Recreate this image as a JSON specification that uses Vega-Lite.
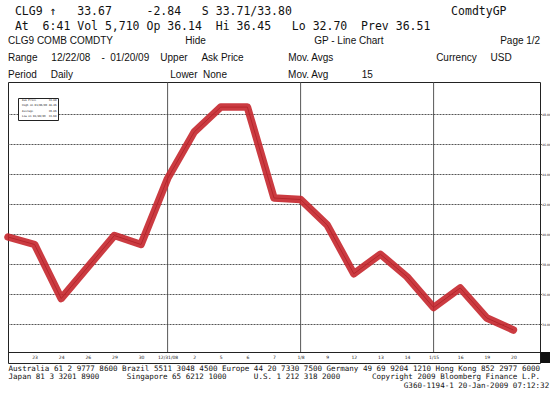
{
  "$schema": "https://vega.github.io/schema/vega-lite/v6.json",
  "width": 532,
  "height": 281,
  "padding": {"left": 4, "top": 6, "right": 0, "bottom": 0},
  "background": "white",
  "config": {"view": {"stroke": "#222", "strokeWidth": 1}},
  "title": {
    "text": [
      "\u200b\u00a0CLG9 ↑\u00a0\u00a0\u00a033.67\u00a0\u00a0\u00a0\u00a0\u00a0-2.84\u00a0\u00a0\u00a0S 33.71/33.80\u00a0\u00a0\u00a0\u00a0\u00a0\u00a0\u00a0\u00a0\u00a0\u00a0\u00a0\u00a0\u00a0\u00a0\u00a0\u00a0\u00a0\u00a0\u00a0\u00a0\u00a0\u00a0\u00a0ComdtyGP",
      "\u200b\u00a0At\u00a0\u00a06:41 Vol 5,710 Op 36.14\u00a0\u00a0Hi 36.45\u00a0\u00a0\u00a0Lo 32.70\u00a0\u00a0Prev 36.51"
    ],
    "subtitle": [
      "CLG9 COMB COMDTY\u00a0\u00a0\u00a0\u00a0\u00a0\u00a0\u00a0\u00a0\u00a0\u00a0\u00a0\u00a0\u00a0\u00a0\u00a0\u00a0\u00a0\u00a0\u00a0\u00a0\u00a0\u00a0\u00a0\u00a0\u00a0\u00a0Hide\u00a0\u00a0\u00a0\u00a0\u00a0\u00a0\u00a0\u00a0\u00a0\u00a0\u00a0\u00a0\u00a0\u00a0\u00a0\u00a0\u00a0\u00a0\u00a0\u00a0\u00a0\u00a0\u00a0\u00a0\u00a0\u00a0\u00a0\u00a0\u00a0\u00a0\u00a0\u00a0\u00a0\u00a0\u00a0\u00a0\u00a0\u00a0\u00a0GP - Line Chart\u00a0\u00a0\u00a0\u00a0\u00a0\u00a0\u00a0\u00a0\u00a0\u00a0\u00a0\u00a0\u00a0\u00a0\u00a0\u00a0\u00a0\u00a0\u00a0\u00a0\u00a0\u00a0\u00a0\u00a0\u00a0\u00a0\u00a0\u00a0\u00a0\u00a0\u00a0\u00a0\u00a0\u00a0\u00a0\u00a0\u00a0\u00a0\u00a0\u00a0\u00a0\u00a0Page 1/2",
      "Range\u00a0\u00a0\u00a0\u00a0\u00a012/22/08\u00a0\u00a0\u00a0\u00a0-\u00a0\u00a001/20/09\u00a0\u00a0\u00a0\u00a0Upper\u00a0\u00a0\u00a0\u00a0\u00a0Ask Price\u00a0\u00a0\u00a0\u00a0\u00a0\u00a0\u00a0\u00a0\u00a0\u00a0\u00a0\u00a0\u00a0\u00a0\u00a0\u00a0Mov. Avgs\u00a0\u00a0\u00a0\u00a0\u00a0\u00a0\u00a0\u00a0\u00a0\u00a0\u00a0\u00a0\u00a0\u00a0\u00a0\u00a0\u00a0\u00a0\u00a0\u00a0\u00a0\u00a0\u00a0\u00a0\u00a0\u00a0\u00a0\u00a0\u00a0\u00a0\u00a0\u00a0\u00a0\u00a0\u00a0\u00a0\u00a0Currency\u00a0\u00a0\u00a0\u00a0\u00a0USD",
      "Period\u00a0\u00a0\u00a0\u00a0\u00a0Daily\u00a0\u00a0\u00a0\u00a0\u00a0\u00a0\u00a0\u00a0\u00a0\u00a0\u00a0\u00a0\u00a0\u00a0\u00a0\u00a0\u00a0\u00a0\u00a0\u00a0\u00a0\u00a0\u00a0\u00a0\u00a0\u00a0\u00a0\u00a0\u00a0\u00a0\u00a0\u00a0\u00a0\u00a0\u00a0Lower\u00a0\u00a0None\u00a0\u00a0\u00a0\u00a0\u00a0\u00a0\u00a0\u00a0\u00a0\u00a0\u00a0\u00a0\u00a0\u00a0\u00a0\u00a0\u00a0\u00a0\u00a0\u00a0\u00a0\u00a0Mov. Avg\u00a0\u00a0\u00a0\u00a0\u00a0\u00a0\u00a0\u00a0\u00a0\u00a0\u00a0\u00a015"
    ],
    "anchor": "start",
    "frame": "group",
    "font": "DejaVu Sans Mono",
    "fontSize": 11.5,
    "fontWeight": "normal",
    "color": "#111",
    "lineHeight": 15,
    "subtitleFont": "Liberation Sans",
    "subtitleFontSize": 10,
    "subtitleColor": "#111",
    "subtitleLineHeight": 17,
    "subtitlePadding": 3,
    "offset": 2
  },
  "datasets": {
    "prices": [
      {"lbl": "22", "price": 39.8},
      {"lbl": "23", "price": 39.3},
      {"lbl": "24", "price": 35.7},
      {"lbl": "26", "price": 37.8},
      {"lbl": "29", "price": 39.9},
      {"lbl": "30", "price": 39.3},
      {"lbl": "12/31/08", "price": 43.7},
      {"lbl": "2", "price": 46.8},
      {"lbl": "5", "price": 48.46},
      {"lbl": "6", "price": 48.46},
      {"lbl": "7", "price": 42.4},
      {"lbl": "1/8", "price": 42.3},
      {"lbl": "9", "price": 40.6},
      {"lbl": "12", "price": 37.35},
      {"lbl": "13", "price": 38.65},
      {"lbl": "14", "price": 37.15},
      {"lbl": "1/15", "price": 35.1},
      {"lbl": "16", "price": 36.4},
      {"lbl": "19", "price": 34.4},
      {"lbl": "20", "price": 33.6}
    ],
    "vgrid": [
      {"lbl": "12/31/08"},
      {"lbl": "1/8"},
      {"lbl": "1/15"}
    ],
    "stats": [
      {"stat": "Ask Price", "value": 33.8},
      {"stat": "High", "value": 48.46},
      {"stat": "Average", "value": 39.86},
      {"stat": "Low", "value": 33.6}
    ]
  },
  "resolve": {"axis": {"y": "independent"}},
  "encoding": {
    "x": {
      "field": "lbl", "type": "nominal", "sort": null,
      "scale": {"type": "point", "padding": 0, "domain": ["22","23","24","26","29","30","12/31/08","2","5","6","7","1/8","9","12","13","14","1/15","16","19","20","1/21"]},
      "axis": {
        "labelExpr": "datum.value == '22' || datum.value == '1/21' ? '' : datum.value",
        "labelFont": "DejaVu Sans", "labelFontSize": 4.5, "labelColor": "#222", "labelAngle": 0,
        "labelPadding": -9, "ticks": false, "tickSize": 0, "domain": false, "grid": false, "labelOverlap": false,
        "title": [
          "Australia 61 2 9777 8600 Brazil 5511 3048 4500 Europe 44 20 7330 7500 Germany 49 69 9204 1210 Hong Kong 852 2977 6000",
          "Japan 81 3 3201 8900\u00a0\u00a0\u00a0\u00a0\u00a0\u00a0Singapore 65 6212 1000\u00a0\u00a0\u00a0\u00a0\u00a0\u00a0U.S. 1 212 318 2000\u00a0\u00a0\u00a0\u00a0\u00a0\u00a0\u00a0Copyright 2009 Bloomberg Finance L.P.",
          "\u200b\u00a0\u00a0\u00a0\u00a0\u00a0\u00a0\u00a0\u00a0\u00a0\u00a0\u00a0\u00a0\u00a0\u00a0\u00a0\u00a0\u00a0\u00a0\u00a0\u00a0\u00a0\u00a0\u00a0\u00a0\u00a0\u00a0\u00a0\u00a0\u00a0\u00a0\u00a0\u00a0\u00a0\u00a0\u00a0\u00a0\u00a0\u00a0\u00a0\u00a0\u00a0\u00a0\u00a0\u00a0\u00a0\u00a0\u00a0\u00a0\u00a0\u00a0\u00a0\u00a0\u00a0\u00a0\u00a0\u00a0\u00a0\u00a0\u00a0\u00a0\u00a0\u00a0\u00a0\u00a0\u00a0\u00a0\u00a0\u00a0\u00a0\u00a0\u00a0\u00a0\u00a0\u00a0\u00a0\u00a0\u00a0\u00a0\u00a0\u00a0\u00a0\u00a0\u00a0\u00a0\u00a0\u00a0\u00a0G360-1194-1 20-Jan-2009 07:12:32"
        ],
        "titleFont": "DejaVu Sans Mono", "titleFontSize": 7.55, "titleFontWeight": "normal", "titleColor": "#111",
        "titleAnchor": "start", "titleAlign": "left", "titleBaseline": "top", "titleLineHeight": 8.5, "titlePadding": 1
      }
    }
  },
  "layer": [
    {
      "data": {"name": "vgrid"},
      "mark": {"type": "rule", "color": "#444", "strokeWidth": 0.9},
      "encoding": {
        "y": {"datum": 32.1333, "type": "quantitative", "scale": {"domain": [31.4, 50.1333], "nice": false, "zero": false}, "axis": null},
        "y2": {"datum": 50.1333}
      }
    },
    {
      "data": {"name": "prices"},
      "mark": {"type": "line", "color": "#222", "strokeWidth": 1},
      "encoding": {
        "y": {
          "field": "price", "type": "quantitative",
          "scale": {"domain": [31.4, 50.1333], "nice": false, "zero": false},
          "axis": {
            "orient": "right", "values": [34, 36, 38, 40, 42, 44, 46, 48], "format": ".2f",
            "labelFont": "DejaVu Sans", "labelFontSize": 3.2, "labelColor": "#222", "labelPadding": 0.3,
            "tickSize": 1.2, "tickColor": "#333", "domain": false,
            "grid": true, "gridColor": "#555", "gridDash": [2, 1], "gridWidth": 1, "title": null
          }
        }
      }
    },
    {
      "data": {"name": "prices"},
      "mark": {"type": "line", "color": "#c5262c", "strokeWidth": 7.5, "opacity": 0.9, "strokeCap": "round", "strokeJoin": "round"},
      "encoding": {
        "y": {
          "field": "price", "type": "quantitative",
          "scale": {"domain": [31.4, 50.1333], "nice": false, "zero": false},
          "axis": {
            "orient": "left", "values": [32.1333], "labels": false, "ticks": false, "domain": false,
            "grid": true, "gridColor": "#222", "gridWidth": 1, "title": null
          }
        }
      }
    },
    {
      "data": {"name": "stats"},
      "mark": {"type": "point", "opacity": 0},
      "encoding": {
        "y": {
          "field": "value", "type": "quantitative",
          "scale": {"domain": [31.4, 50.1333], "nice": false, "zero": false},
          "axis": {
            "orient": "right", "values": [31.7667], "labels": false, "domain": false, "grid": false,
            "ticks": true, "tickSize": 14, "tickWidth": 11, "tickColor": "#111", "title": null
          }
        },
        "color": {
          "field": "stat", "type": "nominal",
          "scale": {"domain": ["Ask Price", "High", "Average", "Low"], "range": ["#000", "#000", "#000", "#000"]},
          "legend": {
            "orient": "none", "legendX": 10, "legendY": 16, "title": null,
            "symbolSize": 0, "symbolOpacity": 0, "symbolStrokeWidth": 0, "symbolType": "square",
            "labelFont": "DejaVu Sans Mono", "labelFontSize": 2.6, "labelColor": "#111", "labelOffset": 0,
            "labelExpr": "datum.value == 'Ask Price' ? 'Ask Price\u00a0\u00a0\u00a0\u00a0\u00a0\u00a0\u00a0\u00a033.80' : datum.value == 'High' ? 'High on 01/06/09\u00a048.46' : datum.value == 'Average' ? 'Average\u00a0\u00a0\u00a0\u00a0\u00a0\u00a0\u00a0\u00a0\u00a0\u00a039.86' : 'Low on 01/20/09\u00a0\u00a033.60'",
            "rowPadding": 2.1, "padding": 1.5, "strokeColor": "#222", "fillColor": "white"
          }
        }
      }
    }
  ]
}
